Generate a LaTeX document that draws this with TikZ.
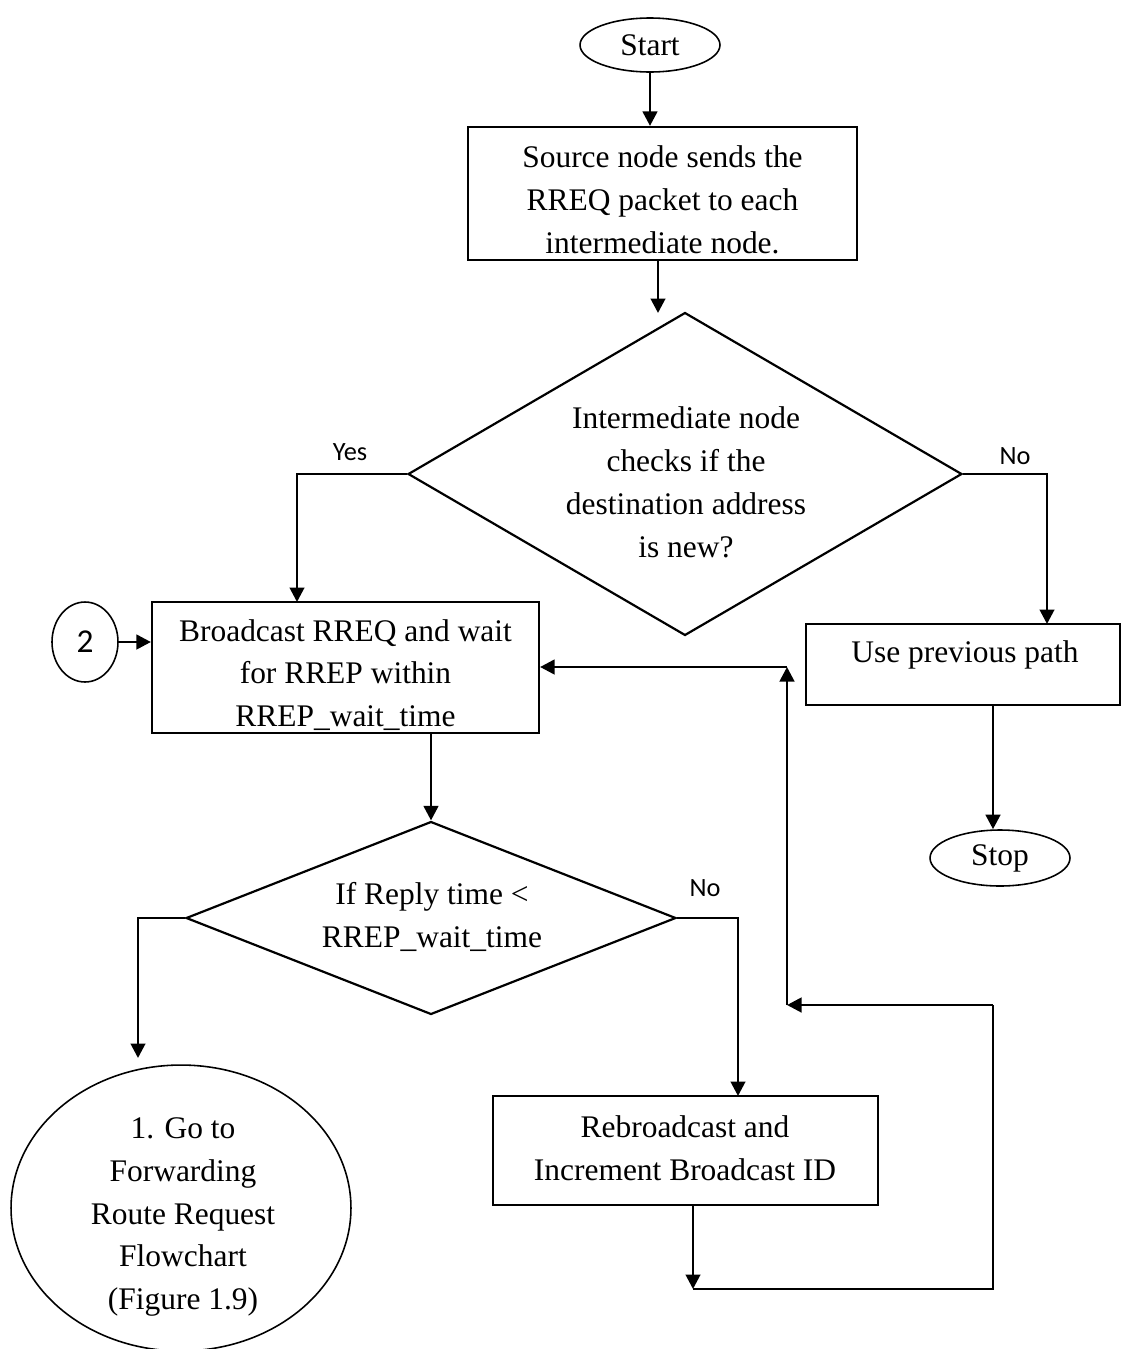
\documentclass[tikz,border=0pt]{standalone}
\usepackage{fontspec}
\setmainfont{Liberation Serif}
\newfontfamily\labfont{Carlito}
\usetikzlibrary{shapes.geometric,arrows.meta}

\begin{document}
\begin{tikzpicture}[x=0.02cm,y=-0.02cm,
  font=\fontsize{17.9}{24.4}\selectfont,
  txt/.style={align=center,inner sep=0pt},
  box/.style={draw,line width=1.25pt,rectangle,inner sep=0pt},
  term/.style={draw,line width=0.9pt,ellipse,inner sep=0pt},
  decision/.style={draw,line width=1.25pt,diamond,inner sep=0pt},
  arr/.style={line width=1.6pt,-{Triangle[length=0.29cm,width=0.29cm]}},
  link/.style={line width=1.6pt},
  lbl/.style={font=\labfont\fontsize{15}{18}\selectfont,inner sep=0pt}]

\useasboundingbox (0,0) rectangle (1122,1349);

% terminals and process boxes
\node[term,minimum width=2.8cm,minimum height=1.08cm] (start) at (650,45) {Start};
\node[box,minimum width=7.78cm,minimum height=2.66cm] (src) at (662.5,193.5) {};
\node[txt] (srct) at (662.5,200) {Source node sends the\\RREQ packet to each\\intermediate node.};

\node[decision,minimum width=11.08cm,minimum height=6.46cm] (chk) at (685,474) {};
\node[txt] (chkt) at (686,482) {Intermediate node\\checks if the\\destination address\\is new?};

\node[box,minimum width=7.74cm,minimum height=2.62cm] (bc) at (345.5,667.5) {};
\node[txt] (bct) at (345.5,675) {Broadcast RREQ and wait\\for RREP within\\RREP\_wait\_time};

\node[term,minimum width=1.32cm,minimum height=1.6cm,font=\labfont\fontsize{19}{22}\selectfont] (two) at (85,642) {2};

\node[box,minimum width=6.28cm,minimum height=1.62cm] (prev) at (963,664.5) {};
\node[txt] (prevt) at (965,655) {Use previous path};

\node[term,minimum width=2.8cm,minimum height=1.12cm] (stop) at (1000,858) {Stop};

\node[decision,minimum width=9.8cm,minimum height=3.86cm] (rep) at (431,918) {};
\node[txt] (rept) at (432,917) {If Reply time <\\RREP\_wait\_time};

\node[term,minimum width=6.8cm,minimum height=5.72cm] (fwd) at (181,1208) {};
\node[txt] (fwdt) at (183,1217) {1. Go to\\Forwarding\\Route Request\\Flowchart\\(Figure 1.9)};

\node[box,minimum width=7.7cm,minimum height=2.18cm] (rb) at (685.5,1150.5) {};
\node[txt] (rbt) at (685,1148) {Rebroadcast and\\Increment Broadcast ID};

% branch labels
\node[lbl] (yes) at (350,452) {Yes};
\node[lbl] (no1) at (1015,456) {No};
\node[lbl] (no2) at (705,888) {No};

% connector end points
\coordinate (a1) at (658,260);
\coordinate (a2) at (658,313);
\coordinate (yesdrop) at (297,602);
\coordinate (nodrop) at (1047,624);
\coordinate (p3) at (993,705);
\coordinate (gotop) at (138,1058);
\coordinate (rbdrop) at (738,1096);
\coordinate (l1) at (693,1289);
\coordinate (l2) at (993,1289);
\coordinate (l3) at (993,1005);
\coordinate (l4) at (787,1005);
\coordinate (l5) at (787,667);

% connectors
\draw[arr] (start.south) -- (start.south |- src.north);
\draw[arr] (a1) -- (a2);
\draw[arr] (chk.west) -| (yesdrop);
\draw[arr] (chk.east) -| (nodrop);
\draw[arr] (two.east) -- (two.east -| bc.west);
\draw[arr] (p3) -- (p3 |- stop.north);
\draw[arr] (bc.south -| rep.north) -- (rep.north);
\draw[arr] (rep.west) -| (gotop);
\draw[arr] (rep.east) -| (rbdrop);

% retry loop back to the broadcast step
\draw[arr] (rb.south -| l1) -- (l1);
\draw[link] (l1) -- (l2) -- (l3);
\draw[arr] (l3) -- (l4);
\draw[arr] (l4) -- (l5);
\draw[arr] (l5) -- (l5 -| bc.east);
\end{tikzpicture}
\end{document}
